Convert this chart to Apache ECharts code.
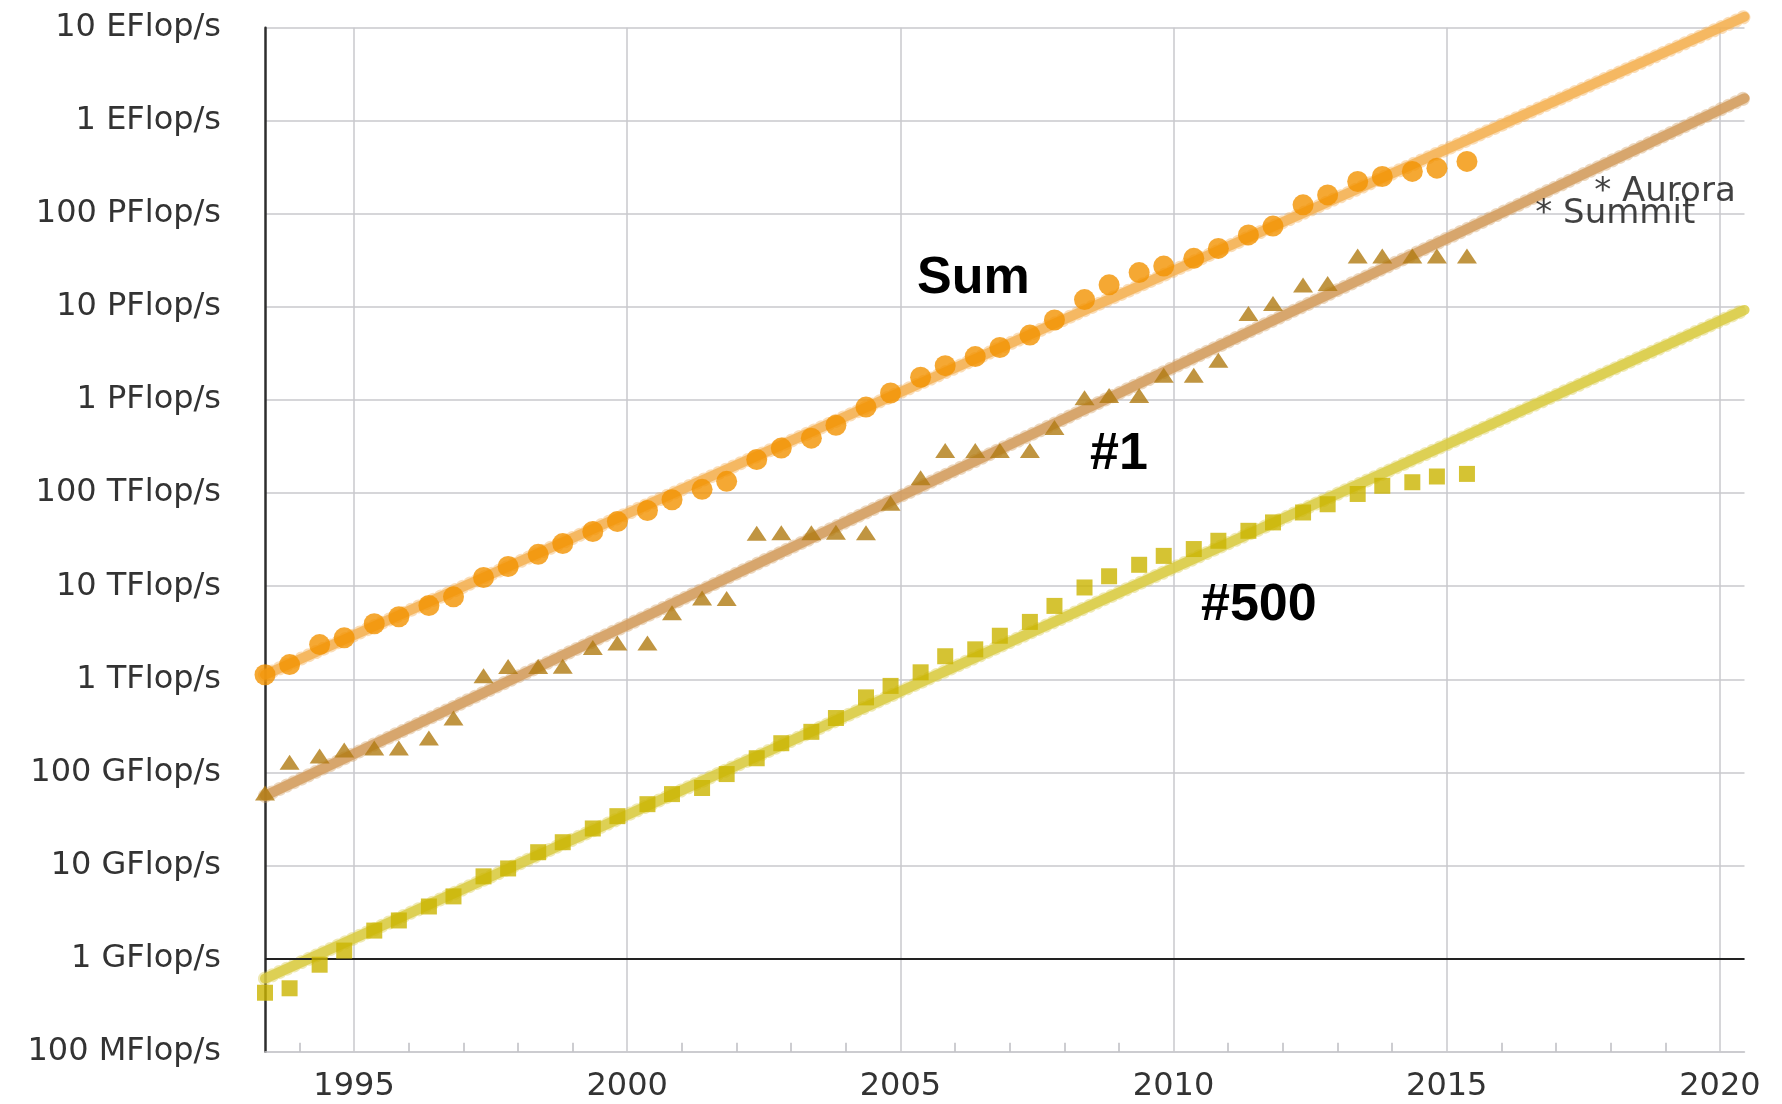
<!DOCTYPE html>
<html>
<head>
<meta charset="utf-8">
<title>TOP500 Performance Development</title>
<script src="https://cdn.jsdelivr.net/npm/echarts@6/dist/echarts.min.js"></script>
<style>
  html, body { margin: 0; padding: 0; background: #ffffff; }
  #chart { width: 1782px; height: 1104px; }
</style>
</head>
<body>
<div id="chart"></div>
<script>
// TOP500 list dates (decimal years, June and November lists)
const listDates = [
  1993.37, 1993.82, 1994.37, 1994.82, 1995.37, 1995.82, 1996.37, 1996.82,
  1997.37, 1997.82, 1998.37, 1998.82, 1999.37, 1999.82, 2000.37, 2000.82,
  2001.37, 2001.82, 2002.37, 2002.82, 2003.37, 2003.82, 2004.37, 2004.82,
  2005.37, 2005.82, 2006.37, 2006.82, 2007.37, 2007.82, 2008.37, 2008.82,
  2009.37, 2009.82, 2010.37, 2010.82, 2011.37, 2011.82, 2012.37, 2012.82,
  2013.37, 2013.82, 2014.37, 2014.82, 2015.37
];

// Aggregate performance of all 500 systems (Flop/s)
const sumPerf = [
  1.12e12, 1.44e12, 2.36e12, 2.79e12, 3.95e12, 4.7e12, 6.2e12, 7.7e12,
  1.24e13, 1.63e13, 2.2e13, 2.87e13, 3.87e13, 4.95e13, 6.5e13, 8.5e13,
  1.1e14, 1.34e14, 2.3e14, 3.05e14, 3.9e14, 5.37e14, 8.4e14, 1.19e15,
  1.76e15, 2.34e15, 2.93e15, 3.67e15, 4.99e15, 7.25e15, 1.2e16, 1.73e16,
  2.34e16, 2.75e16, 3.33e16, 4.26e16, 5.94e16, 7.4e16, 1.25e17, 1.6e17,
  2.23e17, 2.52e17, 2.86e17, 3.1e17, 3.66e17
];

// Performance of the #1 system (Flop/s)
const top1Perf = [
  6.0e10, 1.29e11, 1.5e11, 1.74e11, 1.83e11, 1.83e11, 2.35e11, 3.85e11,
  1.09e12, 1.37e12, 1.37e12, 1.38e12, 2.2e12, 2.45e12, 2.45e12, 5.2e12,
  7.5e12, 7.4e12, 3.7e13, 3.76e13, 3.76e13, 3.8e13, 3.76e13, 7.8e13,
  1.46e14, 2.88e14, 2.88e14, 2.88e14, 2.88e14, 5.07e14, 1.06e15, 1.12e15,
  1.12e15, 1.85e15, 1.85e15, 2.67e15, 8.5e15, 1.09e16, 1.72e16, 1.79e16,
  3.53e16, 3.53e16, 3.53e16, 3.53e16, 3.53e16
];

// Performance of the #500 system (Flop/s)
const top500Perf = [
  4.3e8, 4.8e8, 8.6e8, 1.22e9, 2.0e9, 2.57e9, 3.63e9, 4.66e9,
  7.65e9, 9.3e9, 1.39e10, 1.78e10, 2.5e10, 3.39e10, 4.56e10, 5.85e10,
  6.8e10, 9.6e10, 1.42e11, 2.06e11, 2.73e11, 3.84e11, 6.4e11, 8.5e11,
  1.19e12, 1.77e12, 2.1e12, 2.94e12, 4.14e12, 6.15e12, 9.7e12, 1.28e13,
  1.7e13, 2.12e13, 2.51e13, 3.08e13, 3.94e13, 4.85e13, 6.2e13, 7.6e13,
  9.8e13, 1.2e14, 1.31e14, 1.51e14, 1.61e14
];

// Exponential trend lines (start and end of the fitted range)
const trendYears = [1993.37, 2020.45];
const sumTrend = [1.12e12, 1.31e19];
const top1Trend = [5.6e10, 1.75e18];
const top500Trend = [6.1e8, 9.3e15];

// Announced systems
const plannedNames = ['Summit', 'Aurora'];
const plannedYears = [2016.62, 2017.70];
const plannedPerf = [1.0e17, 1.73e17];

// Axis ticks
const yearLabels = [1995, 2000, 2005, 2010, 2015, 2020];
const minorYears = [1994, 1996, 1997, 1998, 1999, 2001, 2002, 2003, 2004, 2006,
  2007, 2008, 2009, 2011, 2012, 2013, 2014, 2016, 2017, 2018, 2019];
const perfTickLabels = [
  '100 MFlop/s', '1 GFlop/s', '10 GFlop/s', '100 GFlop/s', '1 TFlop/s',
  '10 TFlop/s', '100 TFlop/s', '1 PFlop/s', '10 PFlop/s', '100 PFlop/s',
  '1 EFlop/s', '10 EFlop/s'
];
const axisFloor = 1e8;   // 100 MFlop/s
const axisCeil = 1e19;   // 10 EFlop/s
const gflopLine = 1e9;   // 1 GFlop/s reference line

// Values are plotted as decades (log10) on a linear axis
const lg = v => Math.log10(v);
const pairs = (xs, ys) => xs.map((x, i) => [x, lg(ys[i])]);

const AXIS_FONT = '"DejaVu Sans", "Liberation Sans", Arial, sans-serif';
const BOLD_FONT = '"Liberation Sans", Arial, Helvetica, sans-serif';
const gridColor = '#c9c9cd';

const chart = echarts.init(document.getElementById('chart'), null, { renderer: 'canvas' });

// A trend is drawn as a soft band with a row of translucent beads around it
const trendSeries = (name, values, color, beadColor) => [
  {
    type: 'line',
    name: name,
    data: pairs(trendYears, values),
    symbol: 'none',
    clip: false,
    silent: true,
    z: 2,
    lineStyle: { color: color, width: 10, cap: 'round', opacity: 0.8 }
  },
  {
    type: 'line',
    name: name + ' beads',
    data: pairs(trendYears, values),
    symbol: 'none',
    clip: false,
    silent: true,
    z: 3,
    lineStyle: { color: beadColor, width: 14, cap: 'round', type: [0.01, 8], opacity: 0.4 }
  }
];

const sumTrendSeries = trendSeries('Sum trend', sumTrend, '#f5b24f', '#f3a94a');
const top1TrendSeries = trendSeries('#1 trend', top1Trend, '#d49a58', '#d09a5c');
const top500TrendSeries = trendSeries('#500 trend', top500Trend, '#d9cb3a', '#d6c940');
top500TrendSeries[0].markLine = {
  silent: true,
  symbol: 'none',
  label: { show: false },
  lineStyle: { color: '#222222', width: 2.2, type: 'solid' },
  data: [{ yAxis: lg(gflopLine) }]
};

const option = {
  animation: false,
  backgroundColor: '#ffffff',
  grid: {
    left: 265, right: 37.5, top: 27.7, bottom: 52.3,
    containLabel: false, outerBoundsMode: 'none'
  },
  xAxis: [
    {
      type: 'value',
      min: trendYears[0],
      max: trendYears[1],
      axisLine: { show: true, onZero: false, lineStyle: { color: gridColor, width: 1.5 } },
      axisTick: { show: false, customValues: yearLabels },
      axisLabel: {
        customValues: yearLabels,
        margin: 19,
        fontSize: 32,
        fontFamily: AXIS_FONT,
        color: '#333333',
        formatter: v => String(Math.round(v))
      },
      splitLine: { show: true, lineStyle: { color: gridColor, width: 1.5 } }
    },
    {
      type: 'value',
      position: 'bottom',
      min: trendYears[0],
      max: trendYears[1],
      axisLine: { show: false },
      axisLabel: { show: false },
      splitLine: { show: false },
      axisTick: {
        show: true, inside: true, length: 9,
        customValues: minorYears,
        lineStyle: { color: '#bdbdc2', width: 1.5 }
      }
    }
  ],
  yAxis: {
    type: 'value',
    min: lg(axisFloor),
    max: lg(axisCeil),
    interval: 1,
    axisLine: { show: true, onZero: false, lineStyle: { color: '#2e2e2e', width: 2.5 } },
    axisTick: { show: false },
    axisLabel: {
      margin: 44,
      fontSize: 32,
      fontFamily: AXIS_FONT,
      color: '#333333',
      formatter: v => perfTickLabels[Math.round(v) - lg(axisFloor)]
    },
    splitLine: { show: true, lineStyle: { color: gridColor, width: 1.5 } }
  },
  series: [
    ...sumTrendSeries,
    ...top1TrendSeries,
    ...top500TrendSeries,
    {
      type: 'scatter', name: 'Sum',
      data: pairs(listDates, sumPerf),
      symbol: 'circle', symbolSize: 21, clip: false, z: 5,
      itemStyle: { color: '#f39200' }
    },
    {
      type: 'scatter', name: '#1',
      data: pairs(listDates, top1Perf),
      symbol: 'triangle', symbolSize: [20, 15], clip: false, z: 5,
      itemStyle: { color: '#b07a12' }
    },
    {
      type: 'scatter', name: '#500',
      data: pairs(listDates, top500Perf),
      symbol: 'rect', symbolSize: 16, clip: false, z: 5,
      itemStyle: { color: '#cbb400' }
    },
    {
      type: 'scatter', name: 'Announced',
      data: plannedNames.map((n, i) => ({ name: n, value: [plannedYears[i], lg(plannedPerf[i])] })),
      symbolSize: 0, clip: false, silent: true, z: 6,
      label: {
        show: true, position: 'right', distance: 0,
        formatter: p => '* ' + p.name,
        fontSize: 34, fontFamily: AXIS_FONT, color: '#111111'
      }
    }
  ],
  graphic: [
    { type: 'text', left: 917, top: 253, z: 10,
      style: { text: 'Sum', font: 'bold 52px ' + BOLD_FONT, fill: '#000000' } },
    { type: 'text', left: 1090, top: 429, z: 10,
      style: { text: '#1', font: 'bold 52px ' + BOLD_FONT, fill: '#000000' } },
    { type: 'text', left: 1201, top: 580, z: 10,
      style: { text: '#500', font: 'bold 52px ' + BOLD_FONT, fill: '#000000' } }
  ]
};

chart.setOption(option);
</script>
</body>
</html>
